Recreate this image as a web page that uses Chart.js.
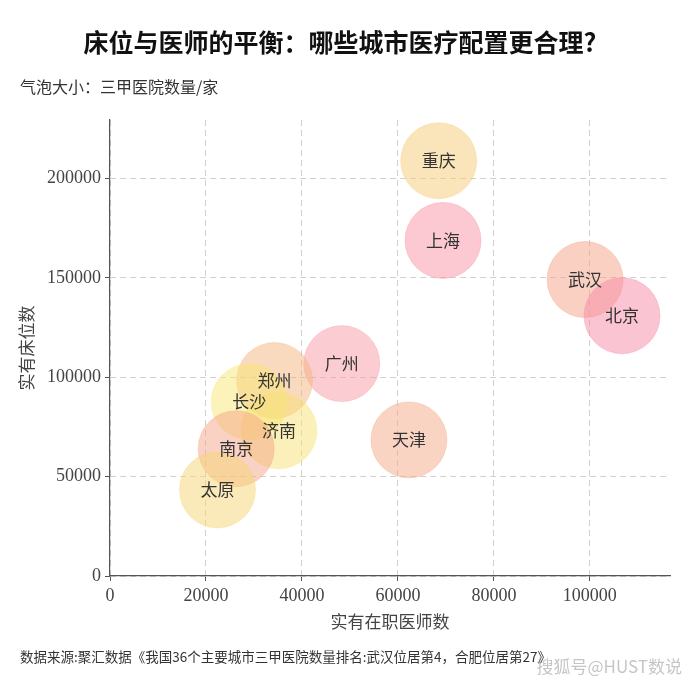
<!DOCTYPE html>
<html>
<head>
<meta charset="utf-8">
<script src="https://cdn.jsdelivr.net/npm/chart.js@4"></script>
<style>
  body { margin: 0; background: #fff; }
  canvas { display: block; }
</style>
</head>
<body>
<canvas id="bubbleChart" width="690" height="690"></canvas>
<script>
// data
const cities = ["重庆", "上海", "武汉", "北京", "广州", "天津", "郑州", "长沙", "济南", "南京", "太原"];
const doctors = [68500, 69400, 99000, 106700, 48300, 62300, 34300, 29000, 35200, 26300, 22400];
const beds = [209000, 168900, 149200, 131000, 106900, 68500, 98400, 87700, 73100, 64100, 43300];
const xTicks = [0, 20000, 40000, 60000, 80000, 100000];
const yTicks = [0, 50000, 100000, 150000, 200000];

const fills = [
    'rgba(245,203,117,0.5)',
    'rgba(249,145,165,0.5)',
    'rgba(245,161,135,0.5)',
    'rgba(247,137,165,0.5)',
    'rgba(247,155,165,0.5)',
    'rgba(245,169,135,0.5)',
    'rgba(245,181,125,0.5)',
    'rgba(247,231,115,0.5)',
    'rgba(247,225,115,0.5)',
    'rgba(245,165,135,0.5)',
    'rgba(247,213,115,0.5)'
];
const borders = fills.map(c => c.replace('0.5)', '0.35)'));

const CJK = '"Noto Sans CJK SC", sans-serif';
const NUM = '"Liberation Serif", "Noto Sans CJK SC", serif';

// big bubbles would otherwise push the plot area in from the right
Chart.registry.getController('bubble').prototype.getMaxOverflow = () => 0;

//labels, titles and notes
const textPlugin = {
    id: 'texts',
    afterDatasetsDraw(chart) {
        const ctx = chart.ctx;
        const meta = chart.getDatasetMeta(0);
        ctx.save();
        ctx.fillStyle = '#333';
        ctx.font = '17px ' + CJK;
        ctx.textAlign = 'center';
        ctx.textBaseline = 'middle';
        meta.data.forEach((pt, i) => {
            ctx.fillText(cities[i], pt.x, pt.y);
        });
        ctx.restore();
    },
    afterDraw(chart) {
        const ctx = chart.ctx;
        const area = chart.chartArea;
        ctx.save();
        ctx.textBaseline = 'middle';

        ctx.fillStyle = '#111';
        ctx.font = 'bold 25px ' + CJK;
        ctx.textAlign = 'center';
        ctx.fillText('床位与医师的平衡：哪些城市医疗配置更合理?', 340, 42);

        ctx.fillStyle = '#333';
        ctx.font = '16px ' + CJK;
        ctx.textAlign = 'left';
        ctx.fillText('气泡大小：三甲医院数量/家', 20, 87);

        ctx.fillStyle = '#444';
        ctx.font = '17px ' + CJK;
        ctx.textAlign = 'center';
        ctx.fillText('实有在职医师数', (area.left + area.right) / 2, 622);

        ctx.save();
        ctx.translate(27, (area.top + area.bottom) / 2);
        ctx.rotate(-Math.PI / 2);
        ctx.fillText('实有床位数', 0, 0);
        ctx.restore();

        ctx.fillStyle = '#333';
        ctx.font = '13.5px ' + CJK;
        ctx.textAlign = 'left';
        ctx.fillText('数据来源:聚汇数据《我国36个主要城市三甲医院数量排名:武汉位居第4，合肥位居第27》', 20, 657);

        ctx.fillStyle = 'rgba(150,150,150,0.55)';
        ctx.font = '17px ' + CJK;
        ctx.textAlign = 'right';
        ctx.fillText('搜狐号@HUST数说', 682, 667);
        ctx.restore();
    }
};

const gridOpts = {
    color: '#d0d0d0',
    tickColor: '#555',
    tickLength: 5,
    tickBorderDash: []
};

new Chart(document.getElementById('bubbleChart').getContext('2d'), {
    type: 'bubble',
    data: {
        datasets: [{
            data: doctors.map((d, i) => ({ x: d, y: beds[i] })),
            backgroundColor: fills,
            borderColor: borders,
            borderWidth: 1,
            radius: 38
        }]
    },
    options: {
        responsive: false,
        animation: false,
        events: [],
        layout: { padding: { top: 120, right: 20, left: 0, bottom: 0 } },
        plugins: {
            legend: { display: false },
            tooltip: { enabled: false }
        },
        scales: {
            x: {
                type: 'linear',
                min: 0,
                max: 116700,
                afterFit: s => {
                    s.height = 114;
                    s.paddingLeft = 0;
                    s.paddingRight = 0;
                },
                afterBuildTicks: s => { s.ticks = xTicks.map(v => ({ value: v })); },
                grid: gridOpts,
                border: { color: '#555', width: 1.2, dash: [6, 4] },
                ticks: {
                    color: '#444',
                    padding: 4,
                    maxRotation: 0,
                    font: { family: NUM, size: 18 },
                    callback: v => String(v)
                }
            },
            y: {
                type: 'linear',
                min: 0,
                max: 229500,
                afterFit: s => {
                    s.width = 110;
                    s.paddingTop = 0;
                    s.paddingBottom = 0;
                },
                afterBuildTicks: s => { s.ticks = yTicks.map(v => ({ value: v })); },
                grid: gridOpts,
                border: { color: '#555', width: 1.2, dash: [6, 4] },
                ticks: {
                    color: '#444',
                    padding: 4,
                    font: { family: NUM, size: 18 },
                    callback: v => String(v)
                }
            }
        }
    },
    plugins: [textPlugin]
});
</script>
</body>
</html>
